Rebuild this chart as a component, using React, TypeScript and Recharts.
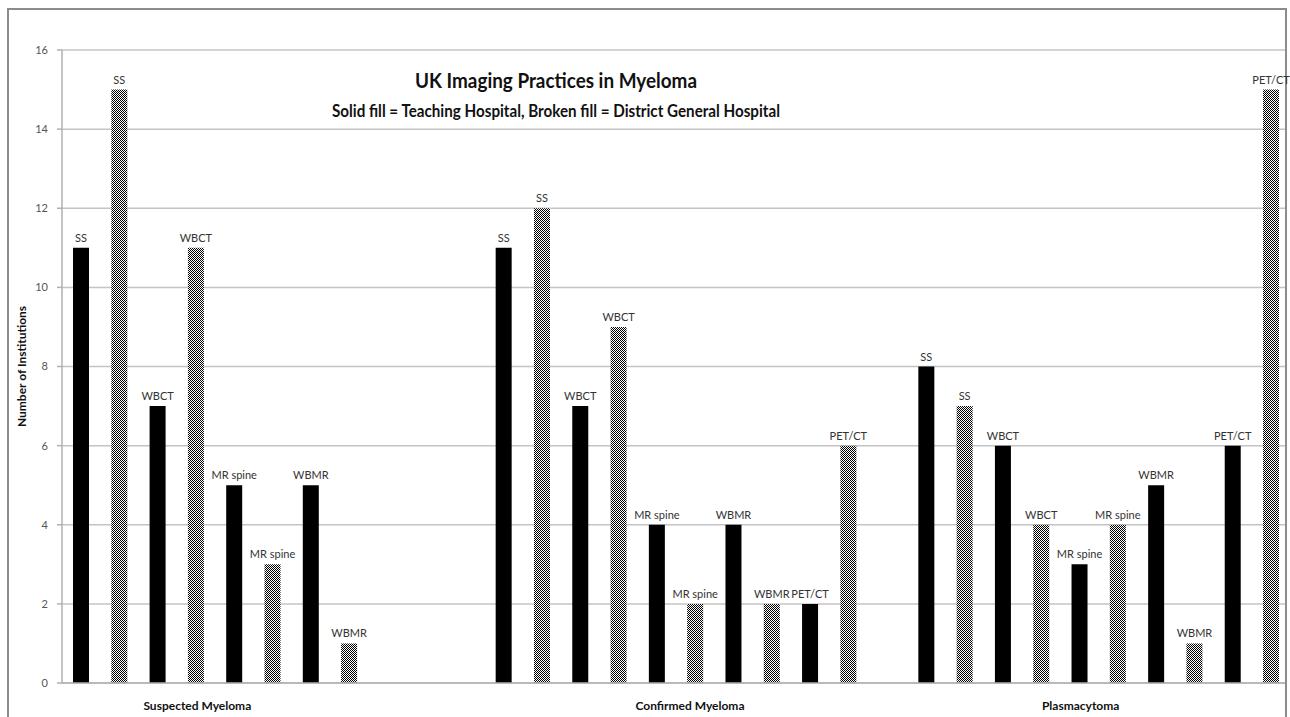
import { BarChart, Bar, XAxis, YAxis, CartesianGrid, LabelList } from "recharts";

const categories = ["Suspected Myeloma", "Confirmed Myeloma", "Plasmacytoma"];
const modalities = ["SS", "WBCT", "MR spine", "WBMR", "PET/CT"];

// teaching hospital (solid) and district general hospital (broken fill), per category
const ssTeaching = [11, 11, 8];
const ssDistrict = [15, 12, 7];
const wbctTeaching = [7, 7, 6];
const wbctDistrict = [11, 9, 4];
const mrTeaching = [5, 4, 3];
const mrDistrict = [3, 2, 4];
const wbmrTeaching = [5, 4, 5];
const wbmrDistrict = [1, 2, 1];
const petTeaching = [null, 2, 6];
const petDistrict = [null, 6, 15];

const yTicks = [0, 2, 4, 6, 8, 10, 12, 14, 16];

const seriesValues = [
  ssTeaching, ssDistrict,
  wbctTeaching, wbctDistrict,
  mrTeaching, mrDistrict,
  wbmrTeaching, wbmrDistrict,
  petTeaching, petDistrict,
];

const data = categories.map((name, i) => {
  const row: Record<string, any> = { name };
  seriesValues.forEach((vals, s) => {
    row["s" + s] = vals[i];
  });
  return row;
});

const FONT = "Lato, 'Open Sans', sans-serif";

// small nudges so the category captions sit like the original
const tickNudge: Record<string, number> = {
  "Suspected Myeloma": -56,
  "Confirmed Myeloma": 14,
  Plasmacytoma: -18,
};

const CategoryTick = (props: any) => {
  const { x, y, payload } = props;
  return (
    <text
      x={x + (tickNudge[payload.value] || 0)}
      y={y + 19}
      textAnchor="middle"
      fontFamily={FONT}
      fontWeight={700}
      fontSize={12}
      fill="#111"
    >
      {payload.value}
    </text>
  );
};

const makeLabel = (text: string) => (props: any) => {
  const { x, y, width, value } = props;
  if (value == null) return null;
  return (
    <text
      x={x + width / 2}
      y={y - 6}
      textAnchor="middle"
      fontFamily={FONT}
      fontSize={11}
      fill="#333"
    >
      {text}
    </text>
  );
};

export default function App() {
  return (
    <div
      style={{
        position: "fixed",
        left: 0,
        top: 0,
        width: 1290,
        height: 717,
        overflow: "hidden",
        background: "#fff",
      }}
    >
      <div
        style={{
          position: "absolute",
          left: 7,
          top: 8,
          width: 1276,
          height: 800,
          border: "2px solid #8c8c8c",
        }}
      />
      <BarChart
        width={1290}
        height={717}
        data={data}
        margin={{ top: 50, right: 5, bottom: 4, left: 2 }}
        barSize={16}
        barGap={22.3}
        style={{ position: "absolute", left: 0, top: 0 }}
      >
        <defs>
          <pattern id="checker" width="2" height="2" patternUnits="userSpaceOnUse">
            <rect width="2" height="2" fill="#fff" />
            <rect width="1" height="1" fill="#000" />
            <rect x="1" y="1" width="1" height="1" fill="#000" />
          </pattern>
        </defs>
        <CartesianGrid vertical={false} stroke="#c4c4c4" strokeWidth={1.5} />
        <XAxis
          dataKey="name"
          height={30}
          padding={{ left: -20, right: -25 }}
          tickLine={false}
          axisLine={{ stroke: "#b0b0b0", strokeWidth: 1.5 }}
          tick={<CategoryTick />}
          interval={0}
        />
        <YAxis
          width={60}
          domain={[0, 16]}
          ticks={yTicks}
          tickSize={5}
          tickMargin={9}
          axisLine={{ stroke: "#b0b0b0", strokeWidth: 1.5 }}
          tickLine={{ stroke: "#b0b0b0", strokeWidth: 1.5 }}
          tick={{ fontFamily: FONT, fontSize: 11, fill: "#555" }}
          label={{
            value: "Number of Institutions",
            angle: -90,
            position: "center",
            dx: -10,
            style: { fontFamily: FONT, fontWeight: 700, fontSize: 12, fill: "#111" },
          }}
        />
        {seriesValues.map((_, s) => (
          <Bar
            key={s}
            dataKey={"s" + s}
            fill={s % 2 === 0 ? "#000" : "url(#checker)"}
            isAnimationActive={false}
          >
            <LabelList dataKey={"s" + s} content={makeLabel(modalities[Math.floor(s / 2)])} />
          </Bar>
        ))}
      </BarChart>
      <svg
        width={1290}
        height={140}
        style={{ position: "absolute", left: 0, top: 0, pointerEvents: "none" }}
      >
        <text
          x={556}
          y={88}
          textAnchor="middle"
          fontFamily={FONT}
          fontWeight={700}
          fontSize={21}
          fill="#111"
          textLength={282}
          lengthAdjust="spacingAndGlyphs"
        >
          UK Imaging Practices in Myeloma
        </text>
        <text
          x={556}
          y={117}
          textAnchor="middle"
          fontFamily={FONT}
          fontWeight={700}
          fontSize={16.5}
          fill="#111"
          textLength={448}
          lengthAdjust="spacingAndGlyphs"
        >
          Solid fill = Teaching Hospital, Broken fill = District General Hospital
        </text>
      </svg>
    </div>
  );
}
